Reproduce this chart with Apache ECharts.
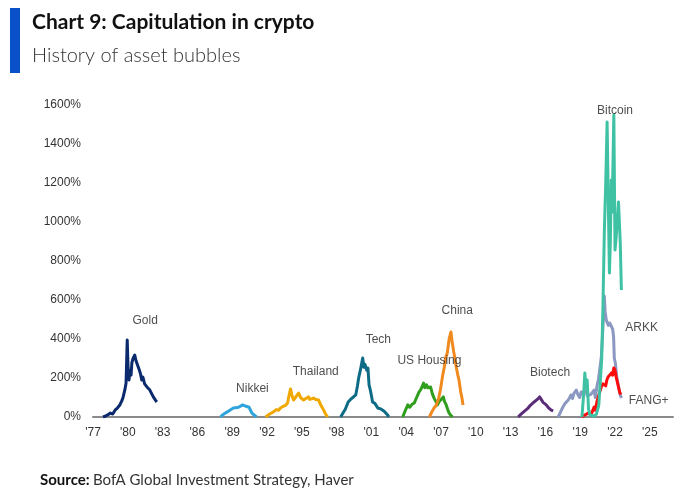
<!DOCTYPE html>
<html><head><meta charset="utf-8">
<script src="https://cdn.jsdelivr.net/npm/echarts@6/dist/echarts.min.js"></script>
<style>html,body{margin:0;padding:0;background:#fff}#c{width:680px;height:494px}</style>
</head><body><div id="c"></div>
<script>
var xTicks = [1977,1980,1983,1986,1989,1992,1995,1998,2001,2004,2007,2010,2013,2016,2019,2022,2025];
var yTicks = [0,200,400,600,800,1000,1200,1400,1600];

var gold = [[1977.86,0],[1978.1,5],[1978.3,12],[1978.5,20],[1978.7,15],[1978.9,35],[1979.1,46],[1979.3,60],[1979.5,85],[1979.6,103],[1979.75,140],[1979.85,174],[1979.95,395],[1980.02,260],[1980.1,190],[1980.2,240],[1980.28,215],[1980.35,277],[1980.45,300],[1980.6,318],[1980.7,290],[1980.8,300],[1980.9,256],[1981.0,240],[1981.1,220],[1981.2,190],[1981.3,205],[1981.45,170],[1981.55,180],[1981.65,154],[1981.8,150],[1981.9,138],[1982.0,145],[1982.1,115],[1982.2,103],[1982.3,110],[1982.4,85],[1982.5,77]];
var nikkei = [[1987.98,0],[1988.2,12],[1988.4,20],[1988.58,26],[1988.8,35],[1988.95,30],[1989.1,46],[1989.3,48],[1989.4,52],[1989.55,50],[1989.7,56],[1989.9,62],[1990.05,72],[1990.2,55],[1990.31,45],[1990.45,50],[1990.57,36],[1990.7,20],[1990.83,10],[1991.1,0]];
var thailand = [[1991.87,0],[1992.1,10],[1992.3,18],[1992.45,12],[1992.56,26],[1992.8,38],[1993.0,35],[1993.16,46],[1993.3,40],[1993.4,55],[1993.6,60],[1993.77,72],[1993.9,110],[1994.03,144],[1994.15,110],[1994.29,87],[1994.4,95],[1994.5,105],[1994.6,100],[1994.72,123],[1994.9,100],[1995.05,95],[1995.15,87],[1995.35,95],[1995.58,103],[1995.7,90],[1995.8,85],[1996.02,97],[1996.2,90],[1996.35,95],[1996.45,87],[1996.65,60],[1996.88,36],[1997.05,15],[1997.23,0]];
var tech = [[1998.35,0],[1998.55,20],[1998.75,40],[1999.0,77],[1999.2,90],[1999.4,100],[1999.65,113],[1999.8,160],[1999.9,200],[2000.05,240],[2000.25,303],[2000.35,255],[2000.45,270],[2000.6,240],[2000.7,251],[2000.8,164],[2000.9,140],[2001.0,110],[2001.1,77],[2001.3,70],[2001.55,46],[2001.7,55],[2001.85,40],[2001.98,46],[2002.1,30],[2002.25,25],[2002.4,10],[2002.5,0]];
var usHousing = [[2003.7,0],[2003.9,30],[2004.14,62],[2004.3,50],[2004.5,65],[2004.7,72],[2004.9,100],[2005.1,128],[2005.25,140],[2005.4,160],[2005.5,174],[2005.6,150],[2005.75,165],[2005.87,150],[2006.0,140],[2006.1,154],[2006.25,120],[2006.4,97],[2006.55,80],[2006.7,62],[2006.85,80],[2007.0,90],[2007.2,103],[2007.3,80],[2007.45,62],[2007.6,35],[2007.7,20],[2007.85,8],[2008.0,0]];
var china = [[2006.0,0],[2006.2,25],[2006.4,46],[2006.6,60],[2006.8,97],[2006.95,140],[2007.15,215],[2007.3,260],[2007.4,303],[2007.55,330],[2007.7,400],[2007.86,436],[2007.95,390],[2008.1,333],[2008.2,300],[2008.3,260],[2008.45,215],[2008.55,190],[2008.7,128],[2008.8,100],[2008.9,62]];
var biotech = [[2013.65,0],[2013.9,15],[2014.05,10],[2014.2,30],[2014.35,25],[2014.51,46],[2014.7,60],[2014.85,55],[2015.03,77],[2015.2,70],[2015.3,90],[2015.5,103],[2015.63,95],[2015.8,75],[2015.95,80],[2016.07,62],[2016.3,45],[2016.5,35],[2016.67,31]];
var arkk = [[2017.1,0],[2017.3,25],[2017.5,50],[2017.7,70],[2017.85,65],[2017.97,87],[2018.1,100],[2018.2,113],[2018.35,95],[2018.45,120],[2018.66,138],[2018.8,115],[2018.95,100],[2019.09,128],[2019.3,125],[2019.5,135],[2019.6,110],[2019.69,120],[2019.9,115],[2020.05,125],[2020.2,138],[2020.3,100],[2020.45,160],[2020.56,190],[2020.7,250],[2020.82,308],[2020.95,446],[2021.08,620],[2021.15,540],[2021.25,497],[2021.35,505],[2021.43,470],[2021.55,482],[2021.68,490],[2021.8,450],[2021.88,410],[2021.94,300],[2022.03,277],[2022.15,205],[2022.3,160],[2022.4,123],[2022.55,97]];
var fang = [[2019.1,0],[2019.4,10],[2019.7,20],[2019.95,15],[2020.2,51],[2020.3,35],[2020.45,80],[2020.56,103],[2020.7,130],[2020.82,154],[2020.95,170],[2021.1,180],[2021.2,160],[2021.3,190],[2021.4,205],[2021.55,195],[2021.7,226],[2021.8,215],[2021.9,251],[2022.0,240],[2022.1,205],[2022.3,154],[2022.4,128],[2022.5,115]];
var bitcoin = [[2019.15,0],[2019.3,120],[2019.4,226],[2019.5,150],[2019.6,190],[2019.72,40],[2019.85,10],[2020.0,20],[2020.2,5],[2020.4,15],[2020.6,60],[2020.75,200],[2020.85,292],[2020.95,533],[2021.08,950],[2021.2,1200],[2021.32,1513],[2021.45,1000],[2021.52,738],[2021.6,900],[2021.68,1215],[2021.75,1050],[2021.9,1549],[2022.0,856],[2022.1,920],[2022.3,1103],[2022.45,900],[2022.55,651]];

var labelNames = ['Gold','Nikkei','Thailand','Tech','US Housing','China','Biotech','ARKK','FANG+','Bitcoin'];
var labelX = [1981.5,1990.74,1996.2,2001.6,2006.0,2008.4,2016.4,2024.3,2024.9,2022.0];
var labelY = [492,144,231,395,287,544,226,456,82,1569];

var names = ['Gold','Nikkei','Thailand','Tech','US Housing','China','Biotech','ARKK','FANG+','Bitcoin'];
var seriesData = [gold,nikkei,thailand,tech,usHousing,china,biotech,arkk,fang,bitcoin];
var colors = ['#0b2a6e','#2ea4dc','#f0a800','#0d6b86','#2f9e1c','#f08a1e','#5b2d78','#8a98c2','#ff0a0a','#3fc2a4'];

var series = seriesData.map(function(d,i){
  return {type:'line', name:names[i], data:d, showSymbol:false, symbol:'none',
    lineStyle:{color:colors[i], width:3, join:'round'}, z:2+i, silent:true};
});
series.push({type:'scatter', data: labelNames.map(function(n,i){return [labelX[i],labelY[i],n];}),
  symbolSize:1, itemStyle:{color:'transparent'}, silent:true, z:20,
  label:{show:true, position:'inside', formatter:function(p){return p.data[2];},
    color:'#222', fontFamily:'Liberation Sans', fontSize:12}});

var chart = echarts.init(document.getElementById('c'), null, {renderer:'canvas'});
chart.setOption({
  animation:false,
  grid:{left:93, right:7, top:105, bottom:77, containLabel:false},
  xAxis:{type:'value', min:1977, max:2027, interval:3,
    axisLine:{show:true, onZero:false, lineStyle:{color:'#8a8a8a', width:2}},
    axisTick:{show:false}, splitLine:{show:false},
    axisLabel:{showMaxLabel:false, margin:10, color:'#333', fontFamily:'Liberation Sans', fontSize:12,
      formatter:function(v){ if (xTicks.indexOf(v)<0) return ''; return "'" + String(v).slice(2); }}},
  yAxis:{type:'value', min:0, max:1600, interval:200,
    axisLine:{show:false}, axisTick:{show:false}, splitLine:{show:false},
    axisLabel:{margin:12, color:'#333', fontFamily:'Liberation Sans', fontSize:12,
      formatter:function(v){ return yTicks.indexOf(v)<0 ? '' : v + '%'; }}},
  graphic:[
    {type:'rect', shape:{x:10, y:8, width:10, height:65}, style:{fill:'#0a50c8'}},
    {type:'text', left:32, top:12, style:{text:'Chart 9: Capitulation in crypto', font:'bold 21px Lato', fill:'#111'}},
    {type:'text', left:32, top:46, style:{text:'History of asset bubbles', font:'300 20px Lato', fill:'#333'}},
    {type:'text', left:40, top:473, style:{
      text:'{b|Source:} {r|BofA Global Investment Strategy, Haver}',
      rich:{b:{font:'bold 15px Lato', fill:'#111'}, r:{font:'15px Lato', fill:'#333'}}}}
  ],
  series:series
});
</script></body></html>
